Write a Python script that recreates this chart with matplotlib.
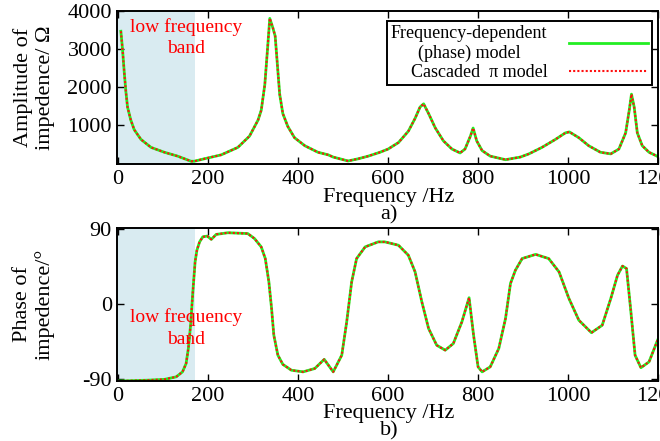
import matplotlib.pyplot as plt

plt.rcParams['font.family'] = ['Liberation Serif', 'DejaVu Serif']
plt.rcParams['axes.unicode_minus'] = False

# amplitude of impedance
amp_freq = [6, 9.6, 13.4, 17, 20.8, 28, 35.7, 50.6, 73, 102.6, 132, 162, 169,
            192, 229, 266, 292, 311, 318, 326, 332, 337, 344, 349, 354, 359,
            366, 377, 392, 415, 444, 467, 478, 497, 511, 534, 556, 582, 600,
            623, 645, 660, 671, 679, 690, 705, 723, 742, 760, 771, 783, 789,
            797, 809, 827, 861, 894, 913, 942, 972, 994, 1003, 1024, 1046,
            1072, 1095, 1113, 1128, 1136, 1141, 1147, 1154, 1165, 1180, 1202]
amp = [3467, 3000, 2403, 1893, 1469, 1128, 872, 617, 406, 278, 176, 41, 41,
       107, 209, 406, 704, 1128, 1383, 2064, 3000, 3806, 3551, 3339, 2574,
       1809, 1298, 959, 661, 449, 278, 209, 151, 92, 48, 107, 176, 278, 362,
       533, 832, 1171, 1469, 1554, 1298, 916, 577, 362, 260, 362, 704, 916,
       577, 321, 176, 82, 151, 235, 406, 617, 788, 814, 661, 449, 278, 235,
       362, 788, 1383, 1809, 1469, 788, 449, 278, 151]

# phase of impedance
ph_freq = [0, 65, 103, 129, 143, 151, 156, 161, 166, 171, 175, 181, 188, 198,
           207, 218, 244, 288, 303, 318, 327, 335, 341, 346, 355, 366, 385,
           411, 437, 458, 478, 497, 508, 519, 530, 549, 578, 593, 623, 645,
           660, 675, 690, 708, 727, 745, 764, 780, 790, 800, 809, 827, 846,
           861, 872, 883, 898, 928, 957, 980, 1002, 1024, 1052, 1076, 1095,
           1110, 1121, 1130, 1139, 1149, 1162, 1180, 1199]
phase = [-92, -91, -90, -87, -81, -71, -53, -25, 15, 51, 65, 75, 81, 82, 78,
         84, 86, 85, 79, 69, 55, 27, -5, -37, -61, -72, -79, -81, -77, -66,
         -81, -61, -21, 27, 55, 69, 75, 75, 71, 59, 39, 3, -29, -49, -55, -47,
         -21, 8, -37, -75, -81, -75, -53, -17, 25, 41, 55, 60, 55, 39, 7, -19,
         -34, -25, 7, 35, 46, 43, -5, -61, -76, -69, -43]

low_band = (0, 170)
green = '#22ee22'
red = '#ff1010'
shade = '#d9ebf1'

fig = plt.figure(figsize=(6.6, 4.41), dpi=100)
ax1 = fig.add_axes([0.177, 0.6274, 0.820, 0.3476])
ax2 = fig.add_axes([0.177, 0.1360, 0.820, 0.3476])


def style(ax):
    for s in ax.spines.values():
        s.set_linewidth(1.4)
    ax.tick_params(direction='in', top=True, right=True, length=5, width=1,
                   labelsize=16, pad=3.5)
    ax.tick_params(axis='x', pad=4)
    ax.set_xlim(-3, 1200)
    ax.set_xticks([0, 200, 400, 600, 800, 1000, 1200])
    ax.yaxis.set_label_coords(-0.115, 0.5)


# top: amplitude
ax1.axvspan(*low_band, color=shade, lw=0, zorder=0)
ax1.plot(amp_freq, amp, color=green, lw=2, label='Frequency-dependent\n(phase) model')
ax1.plot(amp_freq, amp, color=red, lw=1.5, ls=(0, (1, 1)), label='Cascaded  π model')
style(ax1)
ax1.set_ylim(-40, 4000)
ax1.set_yticks([1000, 2000, 3000, 4000])
ax1.set_ylabel('Amplitude of\nimpedence/ Ω', fontsize=16)
ax1.text(152, 3820, 'low frequency\nband', color='red', fontsize=14,
         ha='center', va='top', multialignment='center', linespacing=1.35)
ax1.text(0.503, -0.215, 'Frequency /Hz', transform=ax1.transAxes, fontsize=16,
         ha='center', va='center')
ax1.text(0.503, -0.33, 'a)', transform=ax1.transAxes, fontsize=16,
         ha='center', va='center')
leg = ax1.legend(loc='upper right', bbox_to_anchor=(0.989, 0.935),
                 borderaxespad=0, fancybox=False, edgecolor='black',
                 framealpha=1, fontsize=13, markerfirst=False,
                 handlelength=4.4, labelspacing=0.15, borderpad=0.2,
                 handletextpad=1.2)
leg.get_frame().set_linewidth(1.4)
for t in leg.get_texts():
    t.set_multialignment('center')

# bottom: phase
ax2.axvspan(*low_band, color=shade, lw=0, zorder=0)
ax2.plot(ph_freq, phase, color=green, lw=2)
ax2.plot(ph_freq, phase, color=red, lw=1.5, ls=(0, (1, 1)))
style(ax2)
ax2.set_ylim(-92, 92)
ax2.set_yticks([-90, 0, 90])
ax2.set_ylabel('Phase of\nimpedence/°', fontsize=16)
ax2.text(152, -5, 'low frequency\nband', color='red', fontsize=14,
         ha='center', va='top', multialignment='center', linespacing=1.35)
ax2.text(0.503, -0.21, 'Frequency /Hz', transform=ax2.transAxes, fontsize=16,
         ha='center', va='center')
ax2.text(0.503, -0.325, 'b)', transform=ax2.transAxes, fontsize=16,
         ha='center', va='center')

fig.savefig('out.png', dpi=100)
